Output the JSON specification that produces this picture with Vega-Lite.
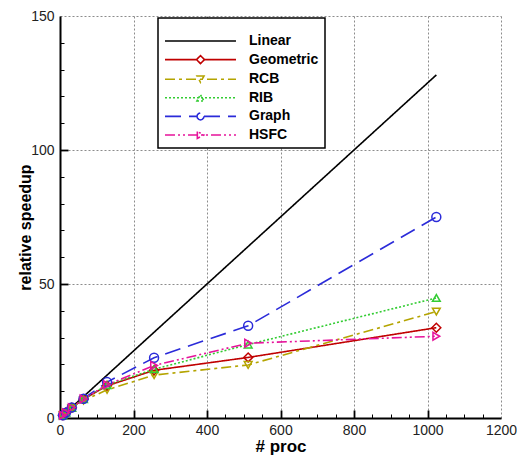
{
  "$schema": "https://vega.github.io/schema/vega-lite/v6.json",
  "width": 441,
  "height": 402,
  "autosize": "none",
  "padding": {"left": 60, "top": 16, "right": 16, "bottom": 38},
  "background": "white",
  "config": {
    "view": {"stroke": null},
    "font": "Liberation Sans",
    "legend": {
      "symbolSize": 196,
      "symbolStrokeWidth": 1.6,
      "symbolOpacity": 1,
      "labelFont": "Liberation Sans",
      "labelFontSize": 14,
      "labelFontWeight": "bold",
      "labelColor": "black",
      "labelOffset": 69,
      "labelLimit": 200,
      "rowPadding": 3.6,
      "padding": 6,
      "strokeColor": "black",
      "strokeWidth": 1.5,
      "fillColor": "white",
      "titleFontSize": 6,
      "titlePadding": 3,
      "cornerRadius": 0
    }
  },
  "data": {
    "values": [
      {"p": 8, "method": "Linear", "s": 1},
      {"p": 16, "method": "Linear", "s": 2},
      {"p": 32, "method": "Linear", "s": 4},
      {"p": 64, "method": "Linear", "s": 8},
      {"p": 128, "method": "Linear", "s": 16},
      {"p": 256, "method": "Linear", "s": 32},
      {"p": 512, "method": "Linear", "s": 64},
      {"p": 1024, "method": "Linear", "s": 128},
      {"p": 8, "method": "Geometric", "s": 1},
      {"p": 16, "method": "Geometric", "s": 2},
      {"p": 32, "method": "Geometric", "s": 3.8},
      {"p": 64, "method": "Geometric", "s": 7},
      {"p": 128, "method": "Geometric", "s": 12},
      {"p": 256, "method": "Geometric", "s": 17.8},
      {"p": 512, "method": "Geometric", "s": 22.6},
      {"p": 1024, "method": "Geometric", "s": 33.7},
      {"p": 8, "method": "RCB", "s": 1},
      {"p": 16, "method": "RCB", "s": 1.9},
      {"p": 32, "method": "RCB", "s": 3.6},
      {"p": 64, "method": "RCB", "s": 6.5},
      {"p": 128, "method": "RCB", "s": 10.5},
      {"p": 256, "method": "RCB", "s": 16},
      {"p": 512, "method": "RCB", "s": 19.8},
      {"p": 1024, "method": "RCB", "s": 39.7},
      {"p": 8, "method": "RIB", "s": 1},
      {"p": 16, "method": "RIB", "s": 2},
      {"p": 32, "method": "RIB", "s": 3.8},
      {"p": 64, "method": "RIB", "s": 7},
      {"p": 128, "method": "RIB", "s": 12.3},
      {"p": 256, "method": "RIB", "s": 18.2},
      {"p": 512, "method": "RIB", "s": 27.4},
      {"p": 1024, "method": "RIB", "s": 44.8},
      {"p": 8, "method": "Graph", "s": 1},
      {"p": 16, "method": "Graph", "s": 2},
      {"p": 32, "method": "Graph", "s": 3.9},
      {"p": 64, "method": "Graph", "s": 7.2},
      {"p": 128, "method": "Graph", "s": 13.4},
      {"p": 256, "method": "Graph", "s": 22.5},
      {"p": 512, "method": "Graph", "s": 34.4},
      {"p": 1024, "method": "Graph", "s": 75},
      {"p": 8, "method": "HSFC", "s": 1},
      {"p": 16, "method": "HSFC", "s": 2},
      {"p": 32, "method": "HSFC", "s": 3.9},
      {"p": 64, "method": "HSFC", "s": 7.1},
      {"p": 128, "method": "HSFC", "s": 12.4},
      {"p": 256, "method": "HSFC", "s": 19.6},
      {"p": 512, "method": "HSFC", "s": 27.9},
      {"p": 1024, "method": "HSFC", "s": 30.5}
    ]
  },
  "resolve": {"axis": {"x": "independent", "y": "independent"}},
  "encoding": {
    "x": {
      "field": "p",
      "type": "quantitative",
      "scale": {"domain": [0, 1200], "nice": false, "zero": false},
      "axis": null
    },
    "y": {
      "field": "s",
      "type": "quantitative",
      "scale": {"domain": [0, 150], "nice": false},
      "axis": null
    }
  },
  "layer": [
    {
      "mark": {"type": "line", "strokeWidth": 1.6},
      "encoding": {
        "x": {
          "field": "p",
          "type": "quantitative",
          "scale": {"domain": [0, 1200], "nice": false, "zero": false},
          "axis": {
            "orient": "bottom",
            "values": [0, 200, 400, 600, 800, 1000, 1200],
            "format": "d",
            "labelOverlap": false,
            "labelFlush": false,
            "labelBound": false,
            "labelFont": "Liberation Sans",
            "labelFontSize": 14,
            "labelColor": "#222",
            "labelPadding": 5,
            "ticks": false,
            "grid": true,
            "gridColor": "#8c8c8c",
            "gridDash": [2, 2],
            "gridWidth": 1,
            "domainColor": "black",
            "domainWidth": 2,
            "title": "# proc",
            "titleFont": "Liberation Sans",
            "titleFontSize": 17,
            "titleFontWeight": "bold",
            "titleColor": "black",
            "titleBaseline": "alphabetic",
            "titleY": 33
          }
        },
        "y": {
          "field": "s",
          "type": "quantitative",
          "scale": {"domain": [0, 150], "nice": false},
          "axis": {
            "orient": "left",
            "values": [0, 50, 100, 150],
            "format": "d",
            "labelOverlap": false,
            "labelFlush": false,
            "labelBound": false,
            "labelFont": "Liberation Sans",
            "labelFontSize": 14,
            "labelColor": "#222",
            "labelPadding": 6,
            "ticks": false,
            "grid": true,
            "gridColor": "#8c8c8c",
            "gridDash": [2, 2],
            "gridWidth": 1,
            "domainColor": "black",
            "domainWidth": 2,
            "title": "relative speedup",
            "titleFont": "Liberation Sans",
            "titleFontSize": 16,
            "titleFontWeight": "bold",
            "titleColor": "black",
            "titleX": -27,
            "titleY": 211
          }
        },
        "color": {
          "field": "method",
          "type": "nominal",
          "scale": {
            "domain": ["Linear", "Geometric", "RCB", "RIB", "Graph", "HSFC"],
            "range": ["#000000", "#c00000", "#b4a400", "#33cc33", "#2b2bd9", "#e6139b"]
          },
          "legend": {"orient": "none", "legendX": 98, "legendY": 2, "title": " "}
        },
        "strokeDash": {
          "field": "method",
          "type": "nominal",
          "scale": {
            "domain": ["Linear", "Geometric", "RCB", "RIB", "Graph", "HSFC"],
            "range": [[1, 0], [1, 0], [10, 4, 3, 4], [2, 2], [16, 8], [10, 3, 2, 3, 2, 3]]
          },
          "legend": {"orient": "none", "legendX": 98, "legendY": 2, "title": " "}
        }
      }
    },
    {
      "mark": {"type": "point", "opacity": 0, "filled": false},
      "encoding": {
        "x": {
          "field": "p",
          "type": "quantitative",
          "scale": {"domain": [0, 1200], "nice": false, "zero": false},
          "axis": {
            "orient": "bottom",
            "values": [50, 100, 150, 250, 300, 350, 450, 500, 550, 650, 700, 750, 850, 900, 950, 1050, 1100, 1150],
            "offset": -4,
            "labels": false,
            "domain": false,
            "grid": false,
            "ticks": true,
            "tickSize": 4,
            "tickWidth": 1,
            "tickColor": "black",
            "title": null
          }
        },
        "y": {
          "field": "s",
          "type": "quantitative",
          "scale": {"domain": [0, 150], "nice": false},
          "axis": {
            "orient": "left",
            "values": [10, 20, 30, 40, 60, 70, 80, 90, 110, 120, 130, 140],
            "offset": -4,
            "labels": false,
            "domain": false,
            "grid": false,
            "ticks": true,
            "tickSize": 4,
            "tickWidth": 1,
            "tickColor": "black",
            "title": null
          }
        },
        "color": {"field": "method", "type": "nominal"},
        "shape": {
          "field": "method",
          "type": "nominal",
          "scale": {
            "domain": ["Linear", "Geometric", "RCB", "RIB", "Graph", "HSFC"],
            "range": [
              "M-1,0H9.14",
              "M-1,0H3.5M4.64,0H9.14M4.07,-0.57L4.64,0L4.07,0.57L3.5,0Z",
              "M-1,0H9.14M3.57,-0.45L4.57,-0.45L4.07,0.45Z",
              "M-1,0H9.14M3.57,0.45L4.57,0.45L4.07,-0.45Z",
              "M-1,0H3.57M4.57,0H9.14M4.57,0L4.5,0.25L4.32,0.43L4.07,0.5L3.82,0.43L3.64,0.25L3.57,0L3.64,-0.25L3.82,-0.43L4.07,-0.5L4.32,-0.43L4.5,-0.25Z",
              "M-1,0H9.14M3.62,-0.5L3.62,0.5L4.55,0Z"
            ]
          },
          "legend": {"orient": "none", "legendX": 98, "legendY": 2, "title": " "}
        }
      }
    },
    {
      "transform": [{"filter": "datum.method === 'Geometric'"}],
      "mark": {"type": "point", "shape": "diamond", "filled": false, "color": "#c00000", "size": 80, "strokeWidth": 1.5, "opacity": 1},
      "encoding": {
        "x": {
          "field": "p",
          "type": "quantitative",
          "scale": {"domain": [0, 1200], "nice": false, "zero": false},
          "axis": {
            "orient": "bottom",
            "values": [200, 400, 600, 800, 1000],
            "offset": -8,
            "labels": false,
            "domain": false,
            "grid": false,
            "ticks": true,
            "tickSize": 8,
            "tickWidth": 1.8,
            "tickColor": "black",
            "title": null
          }
        },
        "y": {
          "field": "s",
          "type": "quantitative",
          "scale": {"domain": [0, 150], "nice": false},
          "axis": {
            "orient": "left",
            "values": [50, 100],
            "offset": -8,
            "labels": false,
            "domain": false,
            "grid": false,
            "ticks": true,
            "tickSize": 8,
            "tickWidth": 1.8,
            "tickColor": "black",
            "title": null
          }
        }
      }
    },
    {
      "transform": [{"filter": "datum.method === 'RCB'"}],
      "mark": {"type": "point", "shape": "triangle-down", "filled": false, "color": "#b4a400", "size": 60, "strokeWidth": 1.5, "opacity": 1}
    },
    {
      "transform": [{"filter": "datum.method === 'RIB'"}],
      "mark": {"type": "point", "shape": "triangle-up", "filled": false, "color": "#33cc33", "size": 60, "strokeWidth": 1.5, "opacity": 1}
    },
    {
      "transform": [{"filter": "datum.method === 'Graph'"}],
      "mark": {"type": "point", "shape": "circle", "filled": false, "color": "#2b2bd9", "size": 80, "strokeWidth": 1.5, "opacity": 1}
    },
    {
      "transform": [{"filter": "datum.method === 'HSFC'"}],
      "mark": {"type": "point", "shape": "triangle-right", "filled": false, "color": "#e6139b", "size": 60, "strokeWidth": 1.5, "opacity": 1}
    }
  ]
}
